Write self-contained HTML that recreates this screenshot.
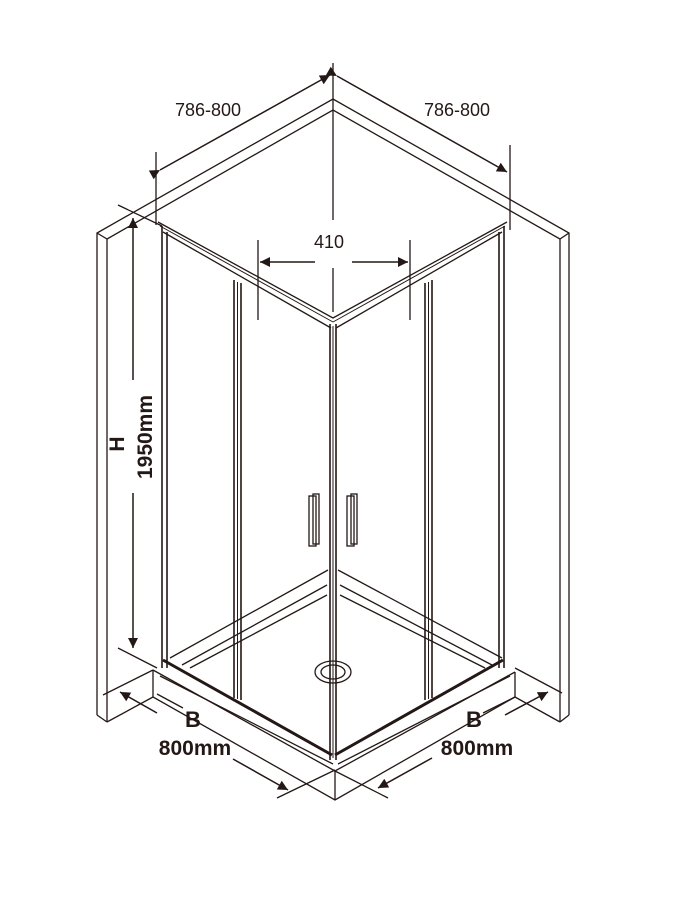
<!DOCTYPE html>
<html><head><style>body{margin:0;background:#fff}svg{display:block}</style></head>
<body>
<svg width="700" height="900" viewBox="0 0 700 900" xmlns="http://www.w3.org/2000/svg" font-family="Liberation Sans, Arial, sans-serif">
<defs>
<marker id="b" viewBox="0 0 10 10" refX="10" refY="5" markerWidth="18" markerHeight="10" orient="auto" markerUnits="userSpaceOnUse">
<path d="M0,0L10,5L0,10z" fill="#231815"/></marker>
</defs>
<g stroke="#231815" fill="none" stroke-width="1.3">
<polyline points="97,715 97,233 333,99 569,233 569,715"/>
<polyline points="107,722 107,239 333,110 560,239 560,722"/>
<line x1="97" y1="233" x2="107" y2="239"/><line x1="569" y1="233" x2="560" y2="239"/>
<line x1="97" y1="715" x2="107" y2="722"/><line x1="569" y1="715" x2="560" y2="722"/>
<line x1="107" y1="722" x2="153" y2="697"/><line x1="560" y1="722" x2="515" y2="697"/>
<polyline points="153,670 153,697 335,800 515,697 515,672"/>
<polyline points="153,670 335,771 515,672"/>
<line x1="335" y1="771" x2="335" y2="800"/>
<line x1="160" y1="676" x2="333" y2="764"/><line x1="338" y1="764" x2="510" y2="676"/>
<line x1="328" y1="570" x2="170" y2="658"/><line x1="338" y1="570" x2="502" y2="658"/>
<line x1="327" y1="585" x2="182" y2="665"/><line x1="340" y1="585" x2="492" y2="665"/>
<line x1="327" y1="595" x2="190" y2="668"/><line x1="340" y1="595" x2="485" y2="668"/>
<ellipse cx="333" cy="672" rx="18" ry="11"/><ellipse cx="333" cy="672" rx="12" ry="7"/>
<polyline points="158,222 333,318 507,222"/>
<polyline points="163,232 331,328"/><polyline points="336,328 502,232"/>
<line x1="160" y1="226" x2="333" y2="322" stroke-width="1"/><line x1="333" y1="322" x2="505" y2="226" stroke-width="1"/>
<g stroke-width="1.6">
<line x1="162" y1="226" x2="162" y2="668"/><line x1="167" y1="232" x2="167" y2="668"/>
<line x1="504" y1="226" x2="504" y2="668"/><line x1="499" y1="232" x2="499" y2="668"/>
<line x1="330" y1="324" x2="330" y2="760"/><line x1="336" y1="324" x2="336" y2="760"/>
<line x1="333" y1="326" x2="333" y2="758" stroke-width="1"/>
<line x1="234" y1="280" x2="234" y2="698"/><line x1="241" y1="283" x2="241" y2="700"/><line x1="237.5" y1="282" x2="237.5" y2="699" stroke-width="1"/>
<line x1="425" y1="283" x2="425" y2="700"/><line x1="432" y1="280" x2="432" y2="698"/><line x1="428.5" y1="282" x2="428.5" y2="699" stroke-width="1"/>
</g>
<line x1="163" y1="660" x2="332" y2="755" stroke-width="3"/><line x1="335" y1="755" x2="503" y2="660" stroke-width="3"/>
<rect x="309" y="496" width="7" height="50"/><rect x="313" y="494" width="6" height="50"/>
<rect x="347" y="496" width="7" height="50"/><rect x="351" y="494" width="6" height="50"/>
<line x1="156" y1="152" x2="156" y2="225"/><line x1="510" y1="145" x2="510" y2="230"/>
<line x1="333" y1="63" x2="333" y2="220"/><line x1="333" y1="268" x2="333" y2="312"/>
<line x1="160" y1="170" x2="330" y2="75" marker-start="url(#b)" marker-end="url(#b)" stroke-width="1.5"/>
<line x1="337" y1="76" x2="507" y2="172" marker-start="url(#b)" marker-end="url(#b)" stroke-width="1.5"/>
<line x1="258" y1="240" x2="258" y2="320"/><line x1="410" y1="240" x2="410" y2="320"/>
<line x1="315" y1="262" x2="260" y2="262" marker-end="url(#b)" stroke-width="1.5"/>
<line x1="352" y1="262" x2="408" y2="262" marker-end="url(#b)" stroke-width="1.5"/>
<line x1="118" y1="205" x2="162" y2="226"/>
<line x1="133" y1="380" x2="133" y2="218" marker-end="url(#b)" stroke-width="1.5"/>
<line x1="133" y1="493" x2="133" y2="648" marker-end="url(#b)" stroke-width="1.5"/>
<line x1="118" y1="648" x2="157" y2="668"/>
<line x1="103" y1="695" x2="153" y2="670"/>
<line x1="157" y1="713" x2="120" y2="692" marker-end="url(#b)" stroke-width="1.5"/>
<line x1="183" y1="708" x2="157" y2="694"/>
<line x1="515" y1="668" x2="562" y2="693"/>
<line x1="505" y1="715" x2="548" y2="692" marker-end="url(#b)" stroke-width="1.5"/>
<line x1="483" y1="713" x2="515" y2="697"/>
<line x1="277" y1="798" x2="335" y2="770"/><line x1="333" y1="770" x2="388" y2="798"/>
<line x1="233" y1="759" x2="288" y2="790" marker-end="url(#b)" stroke-width="1.5"/>
<line x1="432" y1="758" x2="378" y2="788" marker-end="url(#b)" stroke-width="1.5"/>
</g>
<g fill="#231815">
<text x="208" y="116" font-size="18" text-anchor="middle">786-800</text>
<text x="457" y="116" font-size="18" text-anchor="middle">786-800</text>
<text x="329" y="248" font-size="18" text-anchor="middle">410</text>
<text x="193" y="727" font-size="22" font-weight="bold" text-anchor="middle">B</text>
<text x="195" y="755" font-size="21" font-weight="bold" text-anchor="middle">800mm</text>
<text x="474" y="727" font-size="22" font-weight="bold" text-anchor="middle">B</text>
<text x="477" y="755" font-size="21" font-weight="bold" text-anchor="middle">800mm</text>
<text transform="translate(124,444) rotate(-90)" font-size="21" font-weight="bold" text-anchor="middle">H</text>
<text transform="translate(152,437) rotate(-90)" font-size="21" font-weight="bold" text-anchor="middle">1950mm</text>
</g>
</svg>
</body></html>
